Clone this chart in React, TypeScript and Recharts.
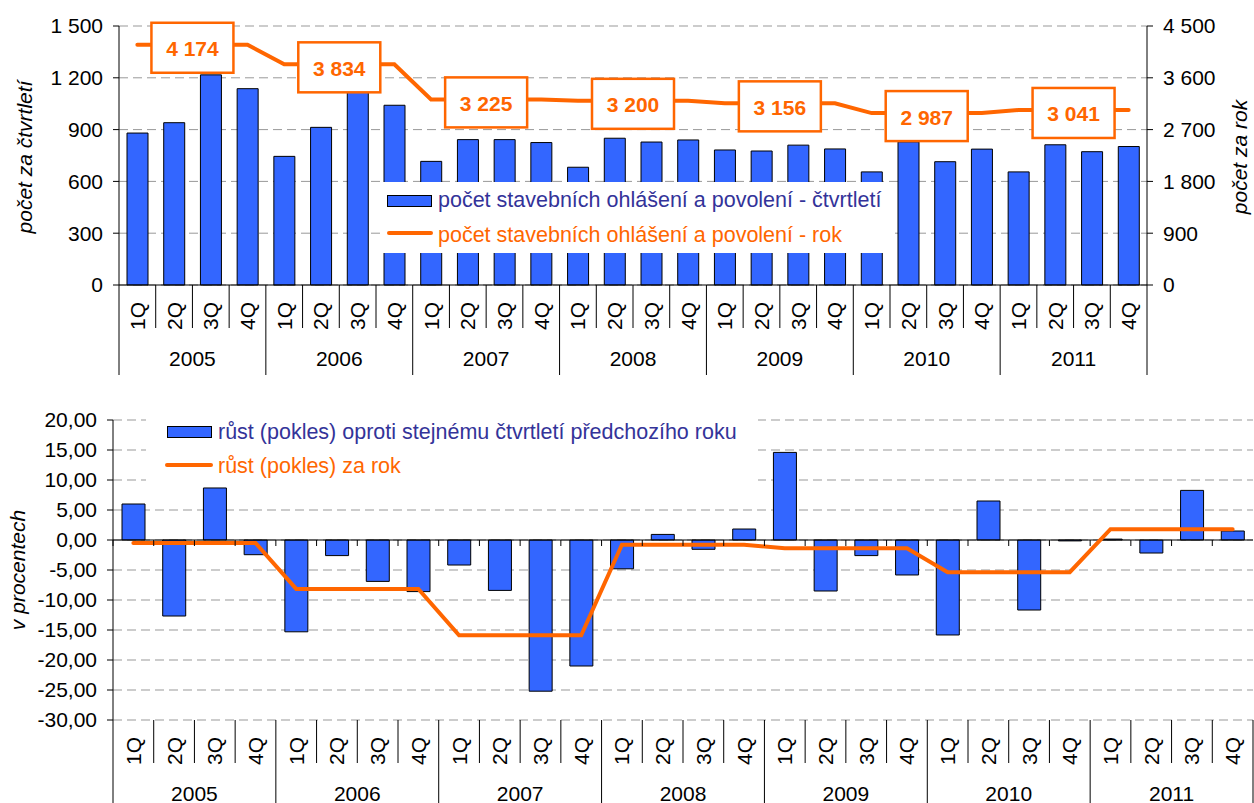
import React from 'react';
import { ComposedChart, Bar, Line, XAxis, YAxis, CartesianGrid, ReferenceLine, LabelList } from 'recharts';

const YEARS = ['2005', '2006', '2007', '2008', '2009', '2010', '2011'];
const QUARTERS = ['1Q', '2Q', '3Q', '4Q'];

// počet stavebních ohlášení a povolení - čtvrtletí
const QUARTERLY_COUNT = [880, 940, 1217, 1137, 745, 913, 1128, 1041, 716, 842, 842, 825, 682, 850, 828, 840, 782, 776, 810, 788, 655, 829, 714, 787, 655, 812, 772, 802];
// počet stavebních ohlášení a povolení - rok
const YEARLY_COUNT = [4174, 3834, 3225, 3200, 3156, 2987, 3041];
// růst (pokles) oproti stejnému čtvrtletí předchozího roku
const QUARTERLY_GROWTH = [6.0, -12.67, 8.67, -2.45, -15.3, -2.6, -6.9, -8.6, -4.17, -8.4, -25.2, -21.0, -4.8, 0.93, -1.55, 1.83, 14.6, -8.5, -2.6, -5.83, -15.83, 6.5, -11.67, -0.15, 0.15, -2.17, 8.27, 1.5];
// růst (pokles) za rok
const YEARLY_GROWTH = [-0.5, -8.15, -15.88, -0.78, -1.38, -5.36, 1.81];

const COUNT_TICKS = [0, 300, 600, 900, 1200, 1500];
const YEAR_TICKS = [0, 900, 1800, 2700, 3600, 4500];
const GROWTH_TICKS = [20, 15, 10, 5, 0, -5, -10, -15, -20, -25, -30];

const rows = YEARS.flatMap((year, yi) =>
  QUARTERS.map((q, qi) => {
    const i = yi * 4 + qi;
    return {
      key: `${year} ${q}`,
      count: QUARTERLY_COUNT[i],
      yearCount: YEARLY_COUNT[yi],
      growth: QUARTERLY_GROWTH[i],
      yearGrowth: YEARLY_GROWTH[yi],
    };
  })
);

const BLUE = '#3366FF';
const ORANGE = '#FF6600';
const FONT = '"Liberation Sans", Arial, sans-serif';
const W = 1254;

// top chart layout
const T_H = 390;
const T_TOP = 26;
const T_LEFT = 119;
const T_RIGHT = 107;
const T_AXIS_Y = 285;
const T_BAND = (W - T_LEFT - T_RIGHT) / rows.length;

// bottom chart layout
const B_OFFSET = 390;
const B_H = 413;
const B_TOP = 30;
const B_LEFT = 113;
const B_RIGHT = 1;
const B_AXIS_Y = 330;
const B_BAND = (W - B_LEFT - B_RIGHT) / rows.length;
const B_ZERO_Y = B_TOP + ((B_AXIS_Y - B_TOP) * 20) / 50;

const fmtCount = (v: number) =>
  v >= 1000 ? `${Math.floor(v / 1000)} ${String(v % 1000).padStart(3, '0')}` : String(v);
const fmtPct = (v: number) => v.toFixed(2).replace('.', ',');

function makeTick(axisY: number, band: number, zeroY?: number) {
  return (props: any) => {
    const { x, payload, index } = props;
    const [year, q] = String(payload.value).split(' ');
    const left = x - band / 2;
    const isFirst = q === '1Q';
    const isLastCat = index === rows.length - 1;
    return (
      <g>
        <line x1={left} x2={left} y1={axisY} y2={axisY + (isFirst ? 90 : 43)} stroke="#000" strokeWidth={1} />
        {isLastCat && (
          <line x1={x + band / 2} x2={x + band / 2} y1={axisY} y2={axisY + 90} stroke="#000" strokeWidth={1} />
        )}
        {zeroY !== undefined && (
          <line x1={left} x2={left} y1={zeroY} y2={zeroY + 6} stroke="#000" strokeWidth={1} />
        )}
        <text
          x={x}
          y={axisY + 31}
          transform={`rotate(-90, ${x}, ${axisY + 31})`}
          textAnchor="middle"
          dominantBaseline="central"
          fontSize={21}
          fill="#000"
          fontFamily={FONT}
        >
          {q}
        </text>
        {q === '2Q' && (
          <text
            x={x + band / 2}
            y={axisY + 73}
            textAnchor="middle"
            dominantBaseline="central"
            fontSize={21}
            fill="#000"
            fontFamily={FONT}
          >
            {year}
          </text>
        )}
      </g>
    );
  };
}

const renderYearBox = (p: any) => {
  const { x, y, value, index } = p;
  if (index % 4 !== 1) return null;
  const cx = x + T_BAND / 2;
  const cy = y + 3;
  return (
    <g>
      <rect x={cx - 41} y={cy - 25} width={82} height={50} fill="#fff" stroke={ORANGE} strokeWidth={2.5} />
      <text x={cx} y={cy + 1} textAnchor="middle" dominantBaseline="central" fontSize={21} fontWeight="bold" fill={ORANGE} fontFamily={FONT}>
        {fmtCount(value)}
      </text>
    </g>
  );
};

const tickStyle = { fill: '#000', fontSize: 21, fontFamily: FONT };

function AxisTitle({ x, y, text }: { x: number; y: number; text: string }) {
  return (
    <div
      style={{
        position: 'absolute',
        left: x,
        top: y,
        transform: 'translate(-50%, -50%) rotate(-90deg)',
        whiteSpace: 'nowrap',
        fontStyle: 'italic',
        fontSize: 21,
        color: '#000',
      }}
    >
      {text}
    </div>
  );
}

export default function App() {
  return (
    <div style={{ position: 'absolute', left: 0, top: 0, width: W, height: 803, background: '#fff', fontFamily: FONT, overflow: 'hidden' }}>
      <div style={{ position: 'absolute', left: 0, top: 0 }}>
        <ComposedChart width={W} height={T_H} data={rows} margin={{ top: T_TOP, right: 0, bottom: 0, left: 0 }} barSize={21}>
          <CartesianGrid vertical={false} stroke="#999" strokeDasharray="9 5" />
          <XAxis
            dataKey="key"
            height={T_H - T_AXIS_Y}
            interval={0}
            tickLine={false}
            axisLine={{ stroke: '#000' }}
            tick={makeTick(T_AXIS_Y, T_BAND)}
          />
          <YAxis
            width={T_LEFT}
            domain={[0, 1500]}
            ticks={COUNT_TICKS}
            interval={0}
            tickFormatter={fmtCount}
            tick={tickStyle}
            tickSize={6}
            tickMargin={10}
            axisLine={{ stroke: '#000' }}
            tickLine={{ stroke: '#000' }}
          />
          <YAxis
            yAxisId="right"
            orientation="right"
            width={T_RIGHT}
            domain={[0, 4500]}
            ticks={YEAR_TICKS}
            interval={0}
            tickFormatter={fmtCount}
            tick={tickStyle}
            tickSize={6}
            tickMargin={10}
            axisLine={{ stroke: '#000' }}
            tickLine={{ stroke: '#000' }}
          />
          <Bar dataKey="count" fill={BLUE} stroke="#000" strokeWidth={1} isAnimationActive={false} />
          <Line
            yAxisId="right"
            dataKey="yearCount"
            stroke={ORANGE}
            strokeWidth={4}
            strokeLinecap="round"
            dot={false}
            activeDot={false}
            type="linear"
            isAnimationActive={false}
          >
            <LabelList dataKey="yearCount" content={renderYearBox} />
          </Line>
        </ComposedChart>
      </div>

      <div style={{ position: 'absolute', left: 380, top: 182, width: 515, height: 71, background: '#fff' }}>
        <div style={{ position: 'absolute', left: 7, top: 13, width: 45, height: 12, background: BLUE, border: '1px solid #000', boxSizing: 'border-box' }} />
        <div style={{ position: 'absolute', left: 58, top: 6, lineHeight: '24px', fontSize: 21.5, color: '#333399', whiteSpace: 'nowrap' }}>
          počet stavebních ohlášení a povolení - čtvrtletí
        </div>
        <div style={{ position: 'absolute', left: 7, top: 49, width: 46, height: 4, background: ORANGE, borderRadius: 2 }} />
        <div style={{ position: 'absolute', left: 58, top: 41, lineHeight: '24px', fontSize: 21.5, color: ORANGE, whiteSpace: 'nowrap' }}>
          počet stavebních ohlášení a povolení - rok
        </div>
      </div>

      <AxisTitle x={25} y={157} text="počet za čtvrtletí" />
      <AxisTitle x={1240} y={157} text="počet za rok" />

      <div style={{ position: 'absolute', left: 0, top: B_OFFSET }}>
        <ComposedChart width={W} height={B_H} data={rows} margin={{ top: B_TOP, right: B_RIGHT, bottom: 0, left: 0 }} barSize={23}>
          <CartesianGrid vertical={false} stroke="#999" strokeDasharray="9 5" />
          <XAxis
            dataKey="key"
            height={B_H - B_AXIS_Y}
            interval={0}
            tickLine={false}
            axisLine={false}
            tick={makeTick(B_AXIS_Y, B_BAND, B_ZERO_Y)}
          />
          <YAxis
            width={B_LEFT}
            domain={[-30, 20]}
            ticks={GROWTH_TICKS}
            interval={0}
            tickFormatter={fmtPct}
            tick={tickStyle}
            tickSize={6}
            tickMargin={10}
            axisLine={{ stroke: '#000' }}
            tickLine={{ stroke: '#000' }}
          />
          <ReferenceLine y={0} stroke="#000" strokeWidth={1} />
          <Bar dataKey="growth" fill={BLUE} stroke="#000" strokeWidth={1} isAnimationActive={false} />
          <Line
            dataKey="yearGrowth"
            stroke={ORANGE}
            strokeWidth={4}
            strokeLinecap="round"
            dot={false}
            activeDot={false}
            type="linear"
            isAnimationActive={false}
          />
        </ComposedChart>
      </div>

      <div style={{ position: 'absolute', left: 146, top: 413, width: 612, height: 72, background: '#fff' }}>
        <div style={{ position: 'absolute', left: 21, top: 13, width: 45, height: 12, background: BLUE, border: '1px solid #000', boxSizing: 'border-box' }} />
        <div style={{ position: 'absolute', left: 72, top: 7, lineHeight: '24px', fontSize: 21.5, color: '#333399', whiteSpace: 'nowrap' }}>
          růst (pokles) oproti stejnému čtvrtletí předchozího roku
        </div>
        <div style={{ position: 'absolute', left: 19, top: 50, width: 48, height: 4, background: ORANGE, borderRadius: 2 }} />
        <div style={{ position: 'absolute', left: 72, top: 41, lineHeight: '24px', fontSize: 21.5, color: ORANGE, whiteSpace: 'nowrap' }}>
          růst (pokles) za rok
        </div>
      </div>

      <AxisTitle x={18} y={570} text="v procentech" />
    </div>
  );
}
